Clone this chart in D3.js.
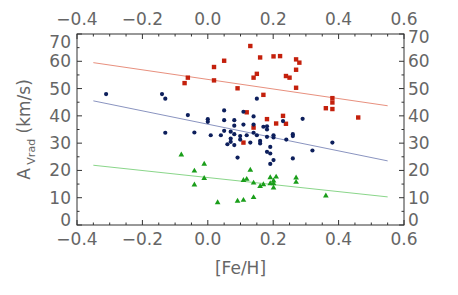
<!DOCTYPE html>
<html>
<head>
<meta charset="utf-8">
<script src="https://cdn.jsdelivr.net/npm/d3@7"></script>
<style>
  body { margin: 0; background: #fff; }
  text { font-family: "DejaVu Sans", sans-serif; fill: #666; }
</style>
</head>
<body>
<div id="chart"></div>
<script>
// [Fe/H] vs A_vrad, three groups
const redX = [0.130, 0.201, 0.221, 0.160, 0.050, 0.019, 0.150, 0.140, 0.239, 0.250, -0.061, -0.071, 0.019, 0.091, 0.170, 0.119, 0.181, 0.230, 0.140, 0.239, 0.209, 0.109, 0.270, 0.280, 0.270, 0.270, 0.381, 0.381, 0.361, 0.381, 0.460];
const redY = [65.6, 61.8, 61.9, 61.4, 60.2, 57.9, 55.4, 54.0, 54.6, 54.0, 54.0, 52.0, 53.0, 50.1, 47.7, 41.3, 38.8, 40.0, 35.7, 37.1, 37.2, 30.2, 60.7, 59.5, 56.9, 50.3, 46.5, 44.9, 42.8, 42.5, 39.4];

const blueX = [-0.311, -0.140, -0.130, -0.130, 0.150, -0.061, 0.050, 0.109, 0.140, 0.000, 0.000, 0.050, 0.081, 0.081, 0.109, 0.140, 0.170, 0.181, 0.230, 0.181, -0.041, 0.009, 0.040, 0.050, 0.070, 0.081, 0.070, 0.099, 0.099, 0.119, 0.140, 0.150, 0.181, 0.201, 0.201, 0.240, 0.060, 0.070, 0.081, 0.130, 0.160, 0.160, 0.191, 0.181, 0.191, 0.201, 0.191, 0.091, 0.290, 0.260, 0.260, 0.381, 0.320, 0.260];
const blueY = [48.0, 48.0, 46.3, 33.8, 46.3, 40.3, 42.0, 41.5, 39.8, 38.8, 37.8, 38.4, 38.4, 36.4, 36.8, 36.8, 36.0, 36.2, 38.1, 35.0, 33.9, 32.9, 32.9, 34.5, 34.2, 33.3, 31.7, 32.6, 31.3, 32.9, 33.8, 32.9, 32.3, 32.9, 32.1, 31.3, 29.6, 30.5, 29.3, 30.2, 30.8, 29.9, 28.6, 26.8, 26.2, 23.8, 22.4, 24.7, 38.9, 33.3, 32.6, 30.2, 27.3, 24.4];

const greenX = [-0.081, -0.011, -0.041, -0.011, -0.041, 0.130, 0.109, 0.119, 0.140, 0.160, 0.170, 0.191, 0.209, 0.201, 0.191, 0.201, 0.201, 0.030, 0.091, 0.109, 0.140, 0.270, 0.270, 0.361];
const greenY = [25.7, 22.3, 19.8, 17.1, 14.7, 20.1, 16.4, 16.8, 15.4, 14.2, 14.8, 17.4, 17.6, 16.2, 15.2, 15.2, 13.6, 8.2, 8.8, 9.1, 10.1, 17.3, 15.7, 10.7];

// fitted lines: [x0, x1] -> [y0, y1]
const fitX = [-0.35, 0.55];
const redFit = [59.5, 43.7];
const blueFit = [45.5, 23.5];
const greenFit = [21.9, 10.3];

const xTicks = [-0.4, -0.2, 0.0, 0.2, 0.4, 0.6];
const yTicks = [0, 10, 20, 30, 40, 50, 60, 70];

const width = 458, height = 295;
const margin = {top: 34, right: 54, bottom: 70, left: 77};

const svg = d3.select('#chart').append('svg')
    .attr('width', width)
    .attr('height', height);

const x = d3.scaleLinear().domain([-0.4, 0.6]).range([margin.left, width - margin.right]);
const y = d3.scaleLinear().domain([0, 70]).range([height - margin.bottom, margin.top]);

const axisColor = '#333';

// frame
svg.append('rect')
    .attr('x', x(-0.4)).attr('y', y(70))
    .attr('width', x(0.6) - x(-0.4)).attr('height', y(0) - y(70))
    .attr('fill', 'none').attr('stroke', axisColor).attr('stroke-width', 1);

// inward ticks
const xMinor = d3.range(-0.4, 0.6001, 0.05).map(d => +d.toFixed(2));
const yMinor = d3.range(0, 70.001, 5);
const isMajorX = d => Math.abs(Math.round(d * 5) - d * 5) < 1e-6;
const isMajorY = d => d % 10 === 0;

const ticks = svg.append('g').attr('stroke', axisColor).attr('stroke-width', 1);
xMinor.forEach(d => {
  const len = isMajorX(d) ? 5 : 2.5;
  ticks.append('line').attr('x1', x(d)).attr('x2', x(d)).attr('y1', y(0)).attr('y2', y(0) - len);
  ticks.append('line').attr('x1', x(d)).attr('x2', x(d)).attr('y1', y(70)).attr('y2', y(70) + len);
});
yMinor.forEach(d => {
  const len = isMajorY(d) ? 5 : 2.5;
  ticks.append('line').attr('x1', x(-0.4)).attr('x2', x(-0.4) + len).attr('y1', y(d)).attr('y2', y(d));
  ticks.append('line').attr('x1', x(0.6)).attr('x2', x(0.6) - len).attr('y1', y(d)).attr('y2', y(d));
});

const fmtX = d => d3.format('.1f')(d).replace('-', '\u2212');

// x tick labels (top & bottom)
svg.append('g').selectAll('text').data(xTicks).enter().append('text')
    .attr('x', d => x(d)).attr('y', 19)
    .attr('text-anchor', 'middle').attr('dominant-baseline', 'central')
    .style('font-size', '17px')
    .text(fmtX);
svg.append('g').selectAll('text').data(xTicks).enter().append('text')
    .attr('x', d => x(d)).attr('y', 239)
    .attr('text-anchor', 'middle').attr('dominant-baseline', 'central')
    .style('font-size', '17px')
    .text(fmtX);

// y tick labels (left & right); the end labels are nudged inward
const nudgeL = d => d === 70 ? 8 : (d === 0 ? -5 : 0);
const nudgeR = d => d === 70 ? 3 : (d === 0 ? -5 : 0);
svg.append('g').selectAll('text').data(yTicks).enter().append('text')
    .attr('x', x(-0.4) - 6).attr('y', d => y(d) + nudgeL(d))
    .attr('text-anchor', 'end').attr('dominant-baseline', 'central')
    .style('font-size', '17px')
    .text(d => d);
svg.append('g').selectAll('text').data(yTicks).enter().append('text')
    .attr('x', x(0.6) + 4).attr('y', d => y(d) + nudgeR(d))
    .attr('text-anchor', 'start').attr('dominant-baseline', 'central')
    .style('font-size', '17px')
    .text(d => d);

// axis titles
svg.append('text')
    .attr('x', (x(-0.4) + x(0.6)) / 2).attr('y', 268)
    .attr('text-anchor', 'middle').attr('dominant-baseline', 'central')
    .style('font-size', '17px')
    .text('[Fe/H]');

const yt = svg.append('text')
    .attr('transform', `translate(30, ${(y(0) + y(70)) / 2}) rotate(-90)`)
    .attr('text-anchor', 'middle')
    .style('font-size', '17px');
yt.append('tspan').text('A');
yt.append('tspan').attr('dy', 5).style('font-size', '11px').text(' Vrad');
yt.append('tspan').attr('dy', -5).text(' (km/s)');

// fit lines
const line = d3.line().x(d => x(d[0])).y(d => y(d[1]));
[[redFit, '#e8907e'], [blueFit, '#8a94c0'], [greenFit, '#8ad68a']].forEach(([f, c]) => {
  svg.append('path')
      .attr('d', line(fitX.map((v, i) => [v, f[i]])))
      .attr('fill', 'none').attr('stroke', c).attr('stroke-width', 1);
});

// points
svg.append('g').selectAll('rect').data(d3.zip(redX, redY)).enter().append('rect')
    .attr('x', d => x(d[0]) - 2.2).attr('y', d => y(d[1]) - 2.2)
    .attr('width', 4.4).attr('height', 4.4)
    .attr('fill', '#c4200c');

svg.append('g').selectAll('circle').data(d3.zip(blueX, blueY)).enter().append('circle')
    .attr('cx', d => x(d[0])).attr('cy', d => y(d[1]))
    .attr('r', 2.1)
    .attr('fill', '#0d1f5c');

const tri = d3.symbol().type(d3.symbolTriangle).size(14);
svg.append('g').selectAll('path').data(d3.zip(greenX, greenY)).enter().append('path')
    .attr('transform', d => `translate(${x(d[0])}, ${y(d[1])})`)
    .attr('d', tri)
    .attr('fill', '#1a9e1a');
</script>
</body>
</html>
